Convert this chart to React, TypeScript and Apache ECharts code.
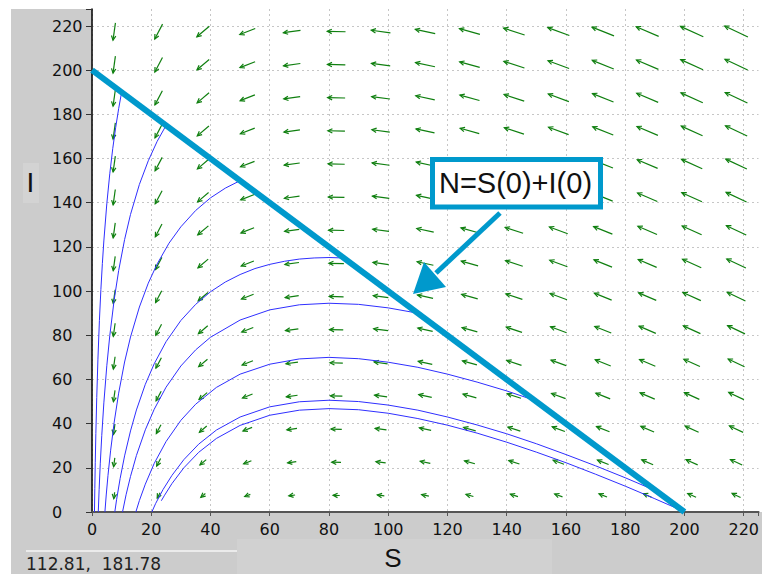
import React, { useEffect, useRef } from "react";
import * as echarts from "echarts";

// Tick values of both axes
const AXIS_TICKS = [0, 20, 40, 60, 80, 100, 120, 140, 160, 180, 200, 220];
const X_MAX = 225;
const Y_MAX = 227.7;

// Direction-field sample positions (S and I)
const S_GRID = [7.5, 22.5, 37.5, 52.5, 67.5, 82.5, 97.5, 112.5, 127.5, 142.5, 157.5, 172.5, 187.5, 202.5, 217.5];
const I_GRID = [7.5, 22.5, 37.5, 52.5, 67.5, 82.5, 97.5, 112.5, 127.5, 142.5, 157.5, 172.5, 187.5, 202.5, 217.5];
// Threshold S at which I' = 0 (every trajectory peaks at S = 80)
const RHO = 80;

// Population line N = S(0) + I(0)
const N_LINE: [number, number][] = [[0, 200], [200, 0]];

// Trajectories (S, I)
const CURVE_A: [number, number][] = [[10, 190], [9, 182.6], [8, 174.1], [7, 164.5], [6, 153.1], [5, 139.5], [4, 122.7], [3.5, 112.5], [3, 100.7], [2.5, 86.6], [2, 69.2], [1.6, 51.8], [1.3, 35.5], [1.1, 22.3], [0.95, 10.7], [0.83, 0]];
const CURVE_B: [number, number][] = [[25, 175], [22, 167.8], [19, 159.0], [16, 148.3], [13, 134.7], [11, 123.3], [9, 109.3], [7.5, 96.2], [6, 79.8], [5, 66.2], [4, 49.4], [3.3, 34.7], [2.8, 22.1], [2.4, 10.1], [2.12, 0]];
const CURVE_C: [number, number][] = [[50, 150], [45, 146.6], [40, 142.2], [35, 136.5], [30, 129.1], [26, 121.7], [22, 112.3], [19, 103.6], [16, 92.8], [13, 79.2], [11, 67.9], [9, 53.8], [7.5, 40.7], [6.3, 28.0], [5.4, 16.6], [4.8, 7.7], [4.36, 0]];
const CURVE_D: [number, number][] = [[85, 115], [80, 115.2], [75, 115.0], [70, 114.5], [65, 113.5], [60, 112.1], [55, 110.2], [50, 107.5], [45, 104.1], [40, 99.7], [35, 94.0], [30, 86.7], [25, 77.1], [21, 67.1], [18, 57.8], [15, 46.2], [13, 36.7], [11, 25.4], [9.5, 15.2], [8.3, 5.6], [7.7, 0]];
const CURVE_E: [number, number][] = [[110, 90], [100, 92.4], [90, 94.0], [80, 94.5], [70, 93.8], [60, 91.5], [50, 86.9], [40, 79.1], [35, 73.4], [30, 66.1], [25, 56.5], [21, 46.5], [18, 37.2], [15, 25.6], [13, 16.1], [11.5, 7.8], [10.3, 0]];
const CURVE_F: [number, number][] = [[149.5, 50.5], [140, 54.8], [130, 58.8], [120, 62.4], [110, 65.5], [100, 67.8], [90, 69.4], [80, 70.0], [70, 69.3], [60, 66.9], [50, 62.4], [42, 56.4], [35, 48.8], [30, 41.5], [25, 31.9], [21, 22.0], [18, 12.6], [16, 5.2], [14.8, 0]];
const CURVE_G: [number, number][] = [[190.5, 9.5], [180, 15.5], [170, 20.9], [160, 26.0], [150, 30.9], [140, 35.4], [130, 39.4], [120, 43.0], [110, 46.1], [100, 48.4], [90, 50.0], [80, 50.6], [70, 49.9], [60, 47.6], [50, 43.0], [42, 37.1], [36, 30.7], [31, 23.7], [27, 16.6], [24, 10.2], [21.5, 3.9], [20.2, 0]];
const CURVE_H: [number, number][] = [[199.7, 0.3], [190, 6.0], [180, 11.7], [170, 17.1], [160, 22.3], [150, 27.1], [140, 31.6], [130, 35.7], [120, 39.3], [110, 42.3], [100, 44.7], [90, 46.3], [80, 46.8], [70, 46.1], [60, 43.8], [50, 39.2], [42, 33.3], [36, 27.0], [31, 20.0], [27, 12.9], [24.5, 7.6], [23.4, 5.1]];
const CURVES = [CURVE_A, CURVE_B, CURVE_C, CURVE_D, CURVE_E, CURVE_F, CURVE_G, CURVE_H];

// Texts
const ANNOTATION = "N=S(0)+I(0)";
const X_NAME = "S";
const Y_NAME = "I";
const CURSOR_TEXT = "112.81,  181.78";

const GREEN = "#0f7f0f";
const BLUE = "#2f2fff";
const CYAN = "#0099cc";
const GRAY = "#cccccc";

export default function App() {
  const ref = useRef<HTMLDivElement>(null);

  useEffect(() => {
    if (!ref.current) return;
    const chart = echarts.init(ref.current, undefined, { renderer: "svg" });

    const fieldData = S_GRID.flatMap((s) => I_GRID.map((i) => [s, i]));

    const tickFmt = (v: number) => (AXIS_TICKS.indexOf(Math.round(v * 1000) / 1000) >= 0 ? String(v) : "");

    const arrowItem = (params: any, api: any) => {
      const S = api.value(0) as number;
      const I = api.value(1) as number;
      const dS = (-S * I) / RHO;
      const dI = (I * (S - RHO)) / RHO;
      const p = api.coord([S, I]);
      const q = api.coord([S + dS * 0.001, I + dI * 0.001]);
      let vx = q[0] - p[0];
      let vy = q[1] - p[1];
      const n = Math.hypot(vx, vy) || 1;
      vx /= n;
      vy /= n;
      const mag = Math.hypot(dS, dI);
      const L = Math.max(5, 3.6 * Math.pow(mag, 0.3));
      const tail = [p[0] - (vx * L) / 2, p[1] - (vy * L) / 2];
      const tip = [p[0] + (vx * L) / 2, p[1] + (vy * L) / 2];
      const h = 5;
      const a = 0.45;
      const bx = -vx, by = -vy;
      const c = Math.cos(a), s = Math.sin(a);
      const b1 = [tip[0] + h * (bx * c - by * s), tip[1] + h * (bx * s + by * c)];
      const b2 = [tip[0] + h * (bx * c + by * s), tip[1] + h * (-bx * s + by * c)];
      return {
        type: "group",
        children: [
          { type: "line", shape: { x1: tail[0], y1: tail[1], x2: tip[0], y2: tip[1] }, style: { stroke: GREEN, lineWidth: 1.2 } },
          { type: "polyline", shape: { points: [b1, tip, b2] }, style: { stroke: GREEN, fill: "none", lineWidth: 1.2 } },
        ],
      };
    };

    const splitLine = { show: true, showMaxLine: false, lineStyle: { color: "#c6c6c6", type: [2, 3], width: 1 } };

    chart.setOption({
      animation: false,
      grid: { left: 92, right: 0, top: 9, bottom: 62, containLabel: false },
      xAxis: {
        type: "value",
        min: 0,
        max: X_MAX,
        interval: 20,
        axisLine: { show: true, onZero: false, lineStyle: { color: "#555", width: 2 } },
        axisTick: { show: true, length: 4, lineStyle: { color: "#555" } },
        axisLabel: { formatter: tickFmt, fontFamily: "DejaVu Sans", fontSize: 16, color: "#111", margin: 9 },
        splitLine,
      },
      yAxis: {
        type: "value",
        min: 0,
        max: Y_MAX,
        interval: 20,
        axisLine: { show: true, onZero: false, lineStyle: { color: "#000", width: 1.5 } },
        axisTick: { show: true, length: 6, lineStyle: { color: "#333" } },
        axisLabel: {
          formatter: tickFmt,
          fontFamily: "DejaVu Sans",
          fontSize: 16,
          color: "#111",
          align: "left",
          margin: 40,
          padding: [5, 0, 0, 0],
        },
        splitLine,
      },
      series: [
        {
          type: "custom",
          name: "field",
          data: fieldData,
          encode: { x: 0, y: 1 },
          renderItem: arrowItem,
          silent: true,
          z: 2,
        },
        ...CURVES.map((c, k) => ({
          type: "line",
          name: "traj" + k,
          data: c,
          showSymbol: false,
          symbol: "none",
          lineStyle: { color: BLUE, width: 1 },
          silent: true,
          z: 3,
        })),
        {
          type: "line",
          name: "N",
          data: N_LINE,
          showSymbol: false,
          symbol: "none",
          lineStyle: { color: CYAN, width: 6, cap: "butt" },
          silent: true,
          z: 4,
        },
      ],
      graphic: [
        { type: "rect", z: -10, silent: true, shape: { x: 11, y: 9, width: 81, height: 565 }, style: { fill: GRAY } },
        { type: "rect", z: -10, silent: true, shape: { x: 11, y: 512, width: 751, height: 62 }, style: { fill: GRAY } },
        { type: "rect", z: -9, silent: true, shape: { x: 23, y: 163, width: 16, height: 40 }, style: { fill: "#d3d3d3" } },
        { type: "rect", z: -9, silent: true, shape: { x: 237, y: 539, width: 315, height: 35 }, style: { fill: "#d1d1d1" } },
        { type: "line", z: -9, silent: true, shape: { x1: 26, y1: 551, x2: 237, y2: 551 }, style: { stroke: "#f6f6f6", lineWidth: 1.5 } },
        {
          type: "text", z: 10, silent: true, x: 30.5, y: 182,
          style: { text: Y_NAME, fontSize: 28, fontFamily: "Liberation Sans", fill: "#111", align: "center", verticalAlign: "middle", textAlign: "center", textVerticalAlign: "middle" },
        },
        {
          type: "text", z: 10, silent: true, x: 393, y: 558,
          style: { text: X_NAME, fontSize: 26, fontFamily: "Liberation Sans", fill: "#111", align: "center", verticalAlign: "middle", textAlign: "center", textVerticalAlign: "middle" },
        },
        {
          type: "text", z: 10, silent: true, x: 26, y: 564,
          style: { text: CURSOR_TEXT, fontSize: 17, fontFamily: "DejaVu Sans", fill: "#222", align: "left", verticalAlign: "middle", textAlign: "left", textVerticalAlign: "middle" },
        },
        // annotation box
        {
          type: "rect", z: 100, silent: true,
          shape: { x: 432.5, y: 159.5, width: 168, height: 47.5 },
          style: { fill: "#ffffff", stroke: CYAN, lineWidth: 5 },
        },
        {
          type: "text", z: 101, silent: true, x: 515.5, y: 183,
          style: { text: ANNOTATION, fontSize: 29, fontFamily: "Liberation Sans", fill: "#111", align: "center", verticalAlign: "middle", textAlign: "center", textVerticalAlign: "middle" },
        },
        // annotation arrow
        {
          type: "line", z: 100, silent: true,
          shape: { x1: 500, y1: 213, x2: 436, y2: 273 },
          style: { stroke: CYAN, lineWidth: 5 },
        },
        {
          type: "polygon", z: 100, silent: true,
          shape: { points: [[413, 294], [424, 262], [446, 287]] },
          style: { fill: CYAN },
        },
      ],
    });

    return () => chart.dispose();
  }, []);

  return <div ref={ref} style={{ position: "fixed", left: 0, top: 0, width: 762, height: 574, background: "#ffffff" }} />;
}
